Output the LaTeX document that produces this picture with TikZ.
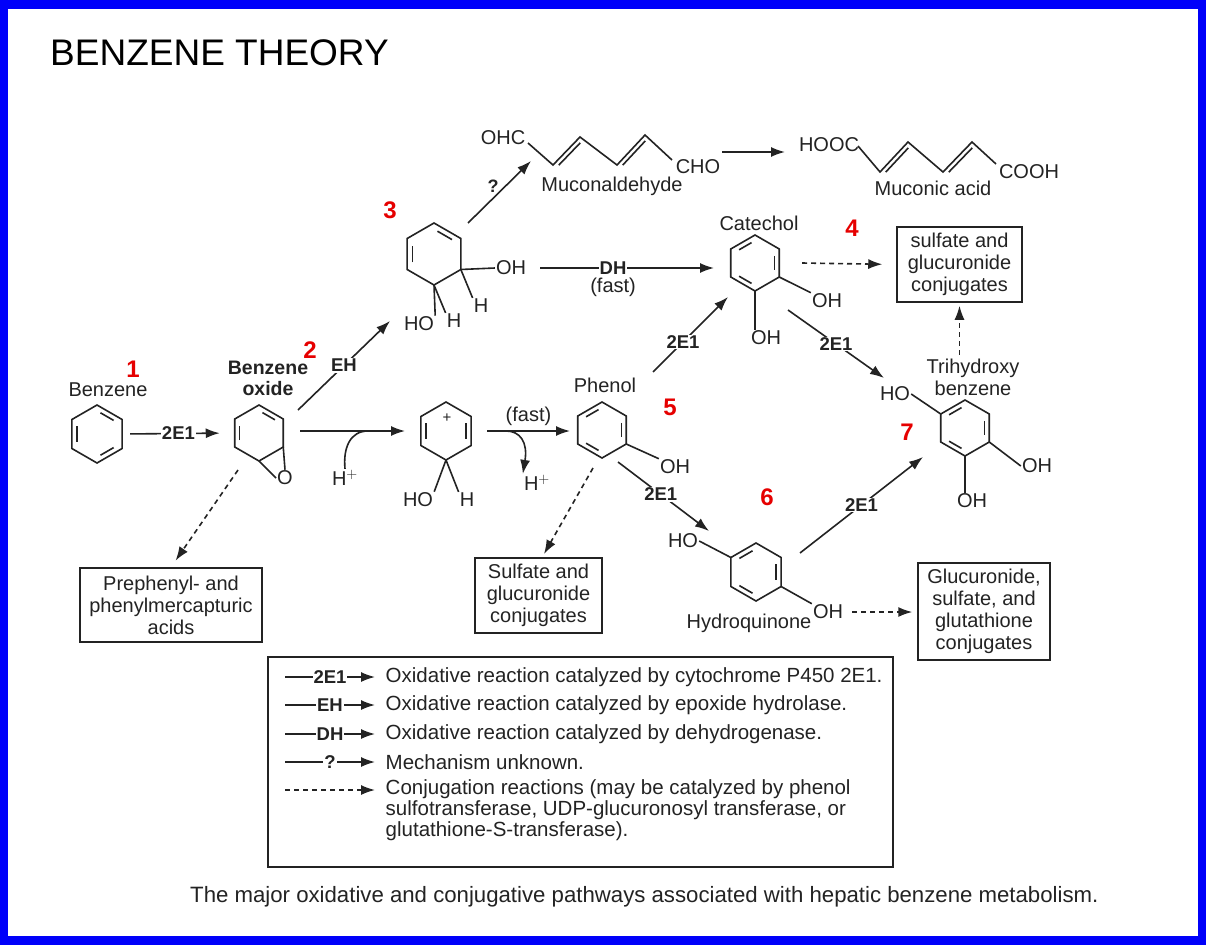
\documentclass[tikz,border=0pt]{standalone}
\usepackage{fontspec}
\setmainfont{Liberation Sans}
\usetikzlibrary{calc,arrows.meta}

\definecolor{frameblue}{RGB}{0,0,250}
\definecolor{ink}{RGB}{35,35,35}
\definecolor{numred}{RGB}{230,0,0}

\tikzset{
  every node/.style={font=\fontsize{20}{22}\selectfont, text=ink, inner sep=1.5pt},
  bond/.style={draw=ink, line width=1.6pt},
  rxn/.style={draw=ink, line width=1.6pt, -{Latex[length=14pt,width=10pt]}},
  conj/.style={rxn, dash pattern=on 5pt off 4pt},
  lbl/.style={fill=white, inner sep=1pt, font=\fontsize{18.5}{20}\selectfont\bfseries},
  atom/.style={inner sep=1pt},
  num/.style={text=numred, inner sep=0pt, font=\fontsize{24}{24}\selectfont\bfseries},
  endbox/.style={draw=ink, line width=1.5pt, align=center},
}

% ring with corners #1-1 (top) ... #1-6 (upper left)
\newcommand{\hexring}[4]{%
  \coordinate (#1) at (#2,#3);
  \foreach \k/\ang in {1/-90,2/-30,3/30,4/90,5/150,6/210}
    \coordinate (#1-\k) at ($(#1)+(\ang:#4)$);
  \draw[bond] (#1-1) -- (#1-2) -- (#1-3) -- (#1-4) -- (#1-5) -- (#1-6) -- cycle;
}
\newcommand{\dbl}[3]{%
  \draw[bond, shorten <=4pt, shorten >=4pt] ($(#1-#2)!.2!(#1)$) -- ($(#1-#3)!.2!(#1)$);
}

\begin{document}
\begin{tikzpicture}[x=1pt, y=-1pt]
    \useasboundingbox (0,0) rectangle (1206,945);
    \fill[frameblue] (0,0) rectangle (1206,945);
    \fill[white] (8,9) rectangle (1198,936);
    \node[anchor=base west, inner sep=0pt, text=black, font=\fontsize{37}{40}\selectfont] (title) at (50,65) {BENZENE THEORY};

    % step numbers
    \node[num] (n1) at (133,369) {1};
    \node[num] (n2) at (310,350) {2};
    \node[num] (n3) at (390,210) {3};
    \node[num] (n4) at (852,228) {4};
    \node[num] (n5) at (670,407) {5};
    \node[num] (n6) at (767,497) {6};
    \node[num] (n7) at (907,432) {7};

    % benzene
    \hexring{bz}{97}{434}{29}
    \dbl{bz}{5}{6} \dbl{bz}{1}{2} \dbl{bz}{3}{4}
    \node (bzlab) at (108,390) {Benzene};

    % benzene oxide
    \hexring{ox}{259}{433}{28}
    \dbl{ox}{5}{6} \dbl{ox}{1}{2}
    \node[atom] (oxO) at (285,478) {O};
    \draw[bond] (ox-3) -- (oxO.north);
    \draw[bond] (ox-4) -- (oxO.west);
    \node[align=center, font=\fontsize{19.5}{21}\selectfont\bfseries] (oxlab) at (268,378) {Benzene\\oxide};

    % dihydrodiol
    \hexring{dio}{434}{254}{31}
    \dbl{dio}{5}{6} \dbl{dio}{1}{2}
    \node[atom] (dioOH) at (511,268) {OH};
    \node[atom] (dioH1) at (481,306) {H};
    \node[atom] (dioHO) at (419,324) {HO};
    \node[atom] (dioH2) at (454,321) {H};
    \draw[bond] (dio-3) -- (dioOH.west);
    \draw[bond] (dio-3) -- (dioH1.north west);
    \draw[bond] (dio-4) -- (dioHO.north east);
    \draw[bond] (dio-4) -- (dioH2.north west);

    % muconaldehyde
    \node[atom] (mOHC) at (503,138) {OHC};
    \node[atom] (mCHO) at (698,167) {CHO};
    \draw[bond] (528,143) -- (553,165) -- (580,137) -- (617,165) -- (645,135) -- (672,160);
    \draw[bond, shorten <=4pt, shorten >=4pt] ([shift={(3,3)}]553,165) -- ([shift={(3,3)}]580,137);
    \draw[bond, shorten <=4pt, shorten >=4pt] ([shift={(3,3)}]617,165) -- ([shift={(3,3)}]645,135);
    \node (mlab) at (612,186) {Muconaldehyde};

    % muconic acid
    \node[atom] (aHOOC) at (829,145) {HOOC};
    \node[atom] (aCOOH) at (1029,172) {COOH};
    \draw[bond] (858,146) -- (880,172) -- (908,142) -- (943,172) -- (972,142) -- (996,164);
    \draw[bond, shorten <=4pt, shorten >=4pt] ([shift={(3,3)}]880,172) -- ([shift={(3,3)}]908,142);
    \draw[bond, shorten <=4pt, shorten >=4pt] ([shift={(3,3)}]943,172) -- ([shift={(3,3)}]972,142);
    \node (alab) at (933,188) {Muconic acid};

    % catechol
    \hexring{cat}{755}{263}{28}
    \dbl{cat}{6}{1} \dbl{cat}{2}{3} \dbl{cat}{4}{5}
    \node (catlab) at (759,223) {Catechol};
    \node[atom] (catOH1) at (827,301) {OH};
    \node[atom] (catOH2) at (766,338) {OH};
    \draw[bond] (cat-3) -- (catOH1.north west);
    \draw[bond] (cat-4) -- (cat-4 |- catOH2.north);

    % trihydroxybenzene
    \hexring{thb}{965}{428}{28}
    \dbl{thb}{6}{1} \dbl{thb}{2}{3} \dbl{thb}{4}{5}
    \node[align=center] (thblab) at (973,377) {Trihydroxy\\benzene};
    \node[atom] (thbHO) at (895,394) {HO};
    \node[atom] (thbOH1) at (1037,466) {OH};
    \node[atom] (thbOH2) at (972,501) {OH};
    \draw[bond] (thb-6) -- (thbHO.east);
    \draw[bond] (thb-3) -- (thbOH1.west);
    \draw[bond] (thb-4) -- (thb-4 |- thbOH2.north);

    % cation
    \hexring{ion}{446}{431}{29}
    \dbl{ion}{5}{6} \dbl{ion}{2}{3}
    \node[atom, font=\fontsize{15}{15}\selectfont] (ionplus) at (447,418) {+};
    \node[atom] (ionHO) at (418,500) {HO};
    \node[atom] (ionH) at (467,500) {H};
    \draw[bond] (ion-4) -- (ionHO.north east);
    \draw[bond] (ion-4) -- (ionH.north west);

    % phenol
    \hexring{phe}{602}{430}{28}
    \dbl{phe}{6}{1} \dbl{phe}{2}{3} \dbl{phe}{4}{5}
    \node (phelab) at (605,385) {Phenol};
    \node[atom] (pheOH) at (675,467) {OH};
    \draw[bond] (phe-3) -- (pheOH.north west);

    % hydroquinone
    \hexring{hq}{756}{572}{29}
    \dbl{hq}{6}{1} \dbl{hq}{2}{3} \dbl{hq}{4}{5}
    \node[atom] (hqHO) at (683,541) {HO};
    \node[atom] (hqOH) at (828,612) {OH};
    \draw[bond] (hq-6) -- (hqHO.east);
    \draw[bond] (hq-3) -- (hqOH.north west);
    \node (hqlab) at (749,623) {Hydroquinone};

    % end products
    \node[endbox, minimum width=182pt, minimum height=74pt] (prebox) at (171,605) {Prephenyl- and\\phenylmercapturic\\acids};
    \node[endbox, minimum width=127pt, minimum height=75pt] (phebox) at (538.5,595.5) {Sulfate and\\glucuronide\\conjugates};
    \node[endbox, minimum width=125pt, minimum height=75pt] (catbox) at (959.5,264.5) {sulfate and\\glucuronide\\conjugates};
    \node[endbox, minimum width=132pt, minimum height=97pt] (glubox) at (984,611.5) {Glucuronide,\\sulfate, and\\glutathione\\conjugates};

    % reactions
    \coordinate (ehs) at (298,410);  \coordinate (ehe) at (390,321);
    \coordinate (qs) at (468,223);   \coordinate (qe) at (531,161);
    \coordinate (ms) at (722,152);   \coordinate (me) at (785,152);
    \coordinate (dhs) at (540,268);  \coordinate (dhe) at (714,268);
    \coordinate (hs) at (300,431);   \coordinate (he) at (405,431);
    \coordinate (fs) at (487,431);   \coordinate (fe) at (570,431);
    \coordinate (pcs) at (653,372);  \coordinate (pce) at (728,297);
    \coordinate (cts) at (788,310);  \coordinate (cte) at (884,378);
    \coordinate (phs) at (618,462);  \coordinate (phe2) at (709,531);
    \coordinate (hts) at (800,553);  \coordinate (hte) at (923,457);
    \draw[rxn, shorten <=8pt, shorten >=15pt] (bz-2 |- bz) -- node[lbl] {2E1} (ox-6 |- ox);
    \draw[rxn] (ehs) -- node[lbl] {EH} (ehe);
    \draw[rxn] (qs) -- node[pos=.6, left=5pt, font=\fontsize{18}{20}\selectfont\bfseries] (qlab) {?} (qe);
    \draw[rxn] (ms) -- (me);
    \draw[rxn] (dhs) -- node[lbl, pos=.42] (dhlab) {DH} node[pos=.42, below=8pt] (dhfast) {(fast)} (dhe);
    \draw[rxn] (hs) -- (he);
    \coordinate (hin) at (368,431);
    \node[atom] (hp1) at (345,478) {H$^{+}$};
    \draw[bond] (hp1.north) .. controls (343,448) and (350,431) .. (hin);
    \draw[rxn] (fs) -- node[above=3pt] (fastlab) {(fast)} (fe);
    \coordinate (hout) at (506,431);
    \node[atom] (hp2) at (537,483) {H$^{+}$};
    \draw[rxn] (hout) .. controls (520,431) and (528,442) .. (hp2.north west);
    \draw[rxn] (pcs) -- node[lbl, pos=.4] {2E1} (pce);
    \draw[rxn] (cts) -- node[lbl, pos=.5] {2E1} (cte);
    \draw[rxn] (phs) -- node[lbl, pos=.47] {2E1} (phe2);
    \draw[rxn] (hts) -- node[lbl, pos=.5] {2E1} (hte);

    % conjugations
    \coordinate (oxd) at (238,470);
    \coordinate (phd) at (593,468);  \coordinate (phd2) at (544,554);
    \coordinate (catd) at (802,263);
    \draw[conj, shorten >=8pt] (oxd) -- (prebox.north);
    \draw[conj] (phd) -- (phd2);
    \draw[conj, shorten >=14pt] (catd) -- (catbox.west);
    \draw[conj, shorten <=2pt, shorten >=3pt] (catbox.south |- thblab.north) -- (catbox.south);
    \draw[conj, shorten <=8pt, shorten >=5pt] (hqOH.east) -- (glubox.west |- hqOH.east);

    % legend
    \node[draw=ink, line width=1.5pt, minimum width=625pt, minimum height=210pt] (legend) at (580.5,762) {};
    \foreach \lab/\txt/\ly [count=\i] in {2E1/Oxidative reaction catalyzed by cytochrome P450 2E1./677,
        EH/Oxidative reaction catalyzed by epoxide hydrolase./705,
        DH/Oxidative reaction catalyzed by dehydrogenase./734,
        ?/Mechanism unknown./762} {
      \coordinate (ls\i) at (285,\ly);
      \coordinate (le\i) at (375,\ly);
      \draw[rxn] (ls\i) -- node[lbl] {\lab} (le\i);
      \node[anchor=west, font=\fontsize{20.5}{21}\selectfont] (lt\i) at (384,\ly) {\txt};
    }
    \coordinate (ls5) at (285,790);
    \coordinate (le5) at (375,790);
    \draw[conj] (ls5) -- (le5);
    \node[anchor=north west, align=left, font=\fontsize{20.5}{21}\selectfont] (lt5) at (384,778) {Conjugation reactions (may be catalyzed by phenol\\sulfotransferase, UDP-glucuronosyl transferase, or\\glutathione-S-transferase).};

    \node[anchor=base west, inner sep=0pt, font=\fontsize{22.2}{24}\selectfont] (caption) at (190,902) {The major oxidative and conjugative pathways associated with hepatic benzene metabolism.};
\end{tikzpicture}
\end{document}
